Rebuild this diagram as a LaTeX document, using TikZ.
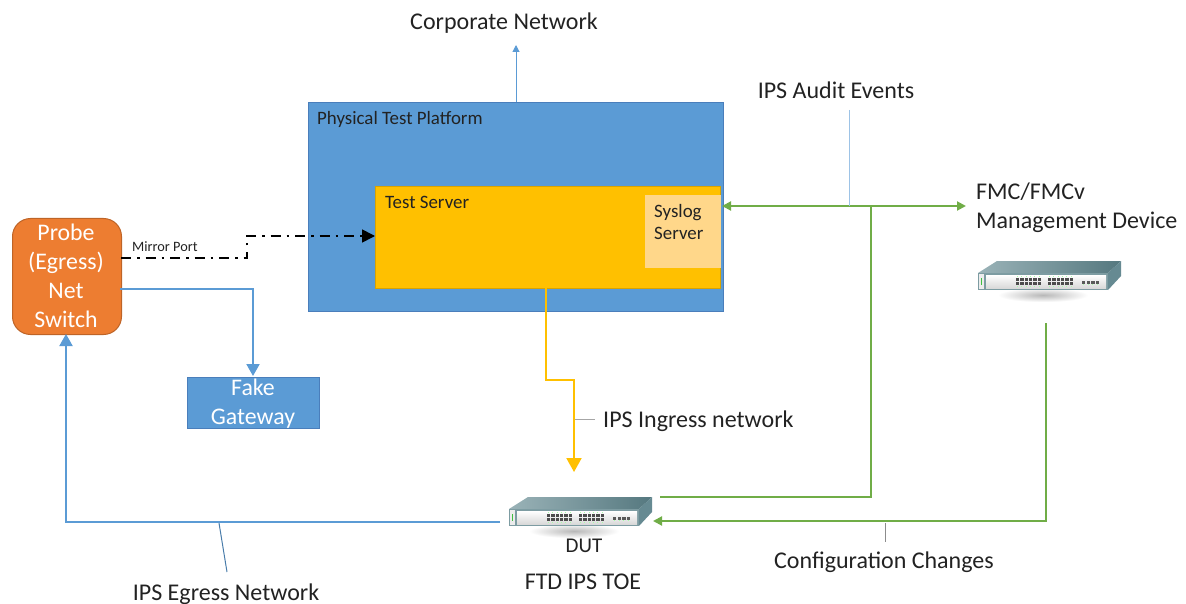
\documentclass[tikz,border=0pt]{standalone}
\usepackage{fontspec}
\setmainfont{Carlito}
\usetikzlibrary{arrows.meta,calc,positioning}
\definecolor{cblue}{HTML}{5B9BD5}
\definecolor{cbluedk}{HTML}{4A7EBB}
\definecolor{corange}{HTML}{ED7D31}
\definecolor{cyellow}{HTML}{FFC000}
\definecolor{clight}{HTML}{FFD78A}
\definecolor{cgreen}{HTML}{70AD47}
\definecolor{cthin}{HTML}{9DC3E6}
\definecolor{ctext}{HTML}{222222}
\definecolor{swtop}{HTML}{6F9299}
\definecolor{swtopb}{HTML}{55787F}
\definecolor{swside}{HTML}{668A92}
\tikzset{
  x=1pt,y=-1pt,
  lbl/.style={text=ctext,font=\fontsize{24}{29}\selectfont,inner sep=0pt,align=left},
  boxlbl/.style={text=ctext,font=\fontsize{18.9}{22}\selectfont,inner sep=0pt,align=left},
  whitelbl/.style={text=white,font=\fontsize{23.8}{29}\selectfont,inner sep=0pt,align=center},
  blueline/.style={draw=cblue,line width=2pt,-{Triangle[length=12pt,width=13pt]}},
  greenline/.style={draw=cgreen,line width=2pt},
  thinline/.style={draw=cthin,line width=1pt},
  swnode/.style={minimum width=143pt,minimum height=30pt,inner sep=0pt},
  pics/switchicon/.style={code={
    % soft shadow
    \shade[inner color=black!28,outer color=white] (20,27) rectangle (110,41);
    % top
    \shade[left color=swtop!70!white,right color=swtopb]
      (0,12) -- (19,0) -- (143,0) -- (130,12) -- cycle;
    % side
    \fill[swside] (130,12) -- (143,0) -- (143,15) -- (130,29) -- cycle;
    % front frame
    \fill[swside!85!white] (0,12) rectangle (130,29);
    \shade[top color=white,bottom color=black!15] (8,14) rectangle (128,27);
    \fill[white!85!gray] (1,13) rectangle (6,28);
    \draw[green!50!gray,line width=1pt] (3.5,17) -- (3.5,24);
    % ports
    \foreach \bx in {38,70}{
      \foreach \i in {0,...,5}{
        \foreach \row in {16.5,21}{
          \fill[black!70] ({\bx+\i*4.3},\row) rectangle ++(3.3,3.4);
        }
        \fill[green!35] ({\bx+\i*4.3+1},15) rectangle ++(1,1.2);
        \fill[green!35] ({\bx+\i*4.3+1},24.8) rectangle ++(1,1.2);
      }
    }
    \foreach \i in {0,...,3}{
      \fill[black!65] ({104+\i*4.6},19.5) rectangle ++(3.4,3);
      \fill[green!35] ({105+\i*4.6},23.2) rectangle ++(1,1.2);
    }
  }}
}
\begin{document}
\begin{tikzpicture}
\useasboundingbox (0,0) rectangle (1186,604);
% boxes
\node[draw=cbluedk,fill=cblue,line width=1pt,anchor=north west,minimum width=415pt,minimum height=209pt,inner sep=0pt] (platform) at (308,102) {};
\node[draw=cyellow!85!black,fill=cyellow,line width=1pt,anchor=north west,minimum width=345pt,minimum height=102pt,inner sep=0pt] (testsrv) at (375,186) {};
\node[fill=clight,anchor=north west,minimum width=76pt,minimum height=73pt,inner sep=0pt] (syslog) at (645,195) {};
\node[draw=corange!80!black,fill=corange,line width=1pt,rounded corners=18pt,anchor=north west,minimum width=109pt,minimum height=116pt,inner sep=0pt] (probe) at (12,218) {};
\node[draw=cbluedk,fill=cblue,line width=1pt,anchor=north west,minimum width=132pt,minimum height=51pt,inner sep=0pt] (fake) at (187,377) {};
% switch icons
\pic at (509,497) {switchicon};
\pic at (978,261) {switchicon};
\node[swnode,anchor=north west] (dut) at (509,497) {};
\node[swnode,anchor=north west] (fmc) at (978,261) {};
% box texts
\node[boxlbl,anchor=west] (tplat) at (317,119) {Physical Test Platform};
\node[boxlbl,anchor=west] (tsrv) at (385,202) {Test Server};
\node[boxlbl,anchor=north west] (tsys) at ($(syslog.north west)+(9,9)$) {Syslog\\Server};
\node[whitelbl] (tprobe) at (66,276) {Probe\\(Egress)\\Net\\Switch};
\node[whitelbl] (tfake) at (253,404) {Fake\\Gateway};
% free labels
\node[lbl,anchor=center] (corp) at (504,23) {Corporate Network};
\node[lbl,anchor=center] (audit) at (836,90) {IPS Audit Events};
\node[lbl,anchor=north west,font=\fontsize{24}{28.5}\selectfont] (fmct) at (976,183) {FMC/FMCv\\Management Device};
\node[lbl,anchor=west] (ingress) at (603,421) {IPS Ingress network};
\node[lbl,anchor=center,font=\fontsize{21}{25}\selectfont] (dutt) at (584,546) {DUT};
\node[lbl,anchor=center] (toe) at (583,582) {FTD IPS TOE};
\node[lbl,anchor=center] (config) at (884,562) {Configuration Changes};
\node[lbl,anchor=center] (egress) at (226,594) {IPS Egress Network};
\node[text=ctext,font=\fontsize{14.3}{17}\selectfont,inner sep=0pt,anchor=west] (mirror) at (132,247) {Mirror Port};
% helper coordinates
\coordinate (probeR) at (121,258);
\coordinate (probeR2) at (120,289);
\coordinate (dutL) at (500,522);
\coordinate (dutR) at (660,497);
\coordinate (dutR2) at (653,521);
\coordinate (sysR) at (722,206);
\coordinate (fmcL) at (966,206);
\coordinate (fmcB) at (1046,323);
\coordinate (tsB) at (546,288);
\coordinate (corpB) at (516,45);
\coordinate (platT) at (516,102);
\coordinate (ingA) at (575,419);
\coordinate (ingB) at (595,419);
% connectors
\draw[black,line width=1.7pt,dash pattern=on 10pt off 6pt on 2.5pt off 6pt,-{Triangle[length=13pt,width=13pt]}]
  (probeR) -- (247,258) -- (247,236) -- (testsrv.west |- 0,236);
\draw[blueline] (probeR2) -- (253,289) -- (253,376);
\draw[blueline] (dutL) -- (66,522) -- (66,334);
\draw[draw=cyellow,line width=2pt,-{Triangle[length=14pt,width=15pt]}]
  (tsB) -- (546,380) -- (574,380) -- (574,472);
\draw[greenline,{Triangle[length=9pt,width=9pt]}-{Triangle[length=9pt,width=9pt]}] (sysR) -- (fmcL);
\draw[greenline] (dutR) -- (871,497) -- (871,206);
\draw[greenline,-{Triangle[length=9pt,width=9pt]}] (fmcB) -- (1046,521) -- (dutR2);
\draw[draw=cblue,line width=1pt,-{Triangle[length=7pt,width=7pt]}] (platT) -- (corpB);
% callout lines
\draw[thinline] (849,110) -- (849,206);
\draw[draw=black!35,line width=1pt] (ingA) -- (ingB);
\draw[draw=cblue!80!black,line width=1pt] (219,523) -- (227,572);
\draw[draw=black!45,line width=1pt] (885,523) -- (885,542);
\end{tikzpicture}
\end{document}
